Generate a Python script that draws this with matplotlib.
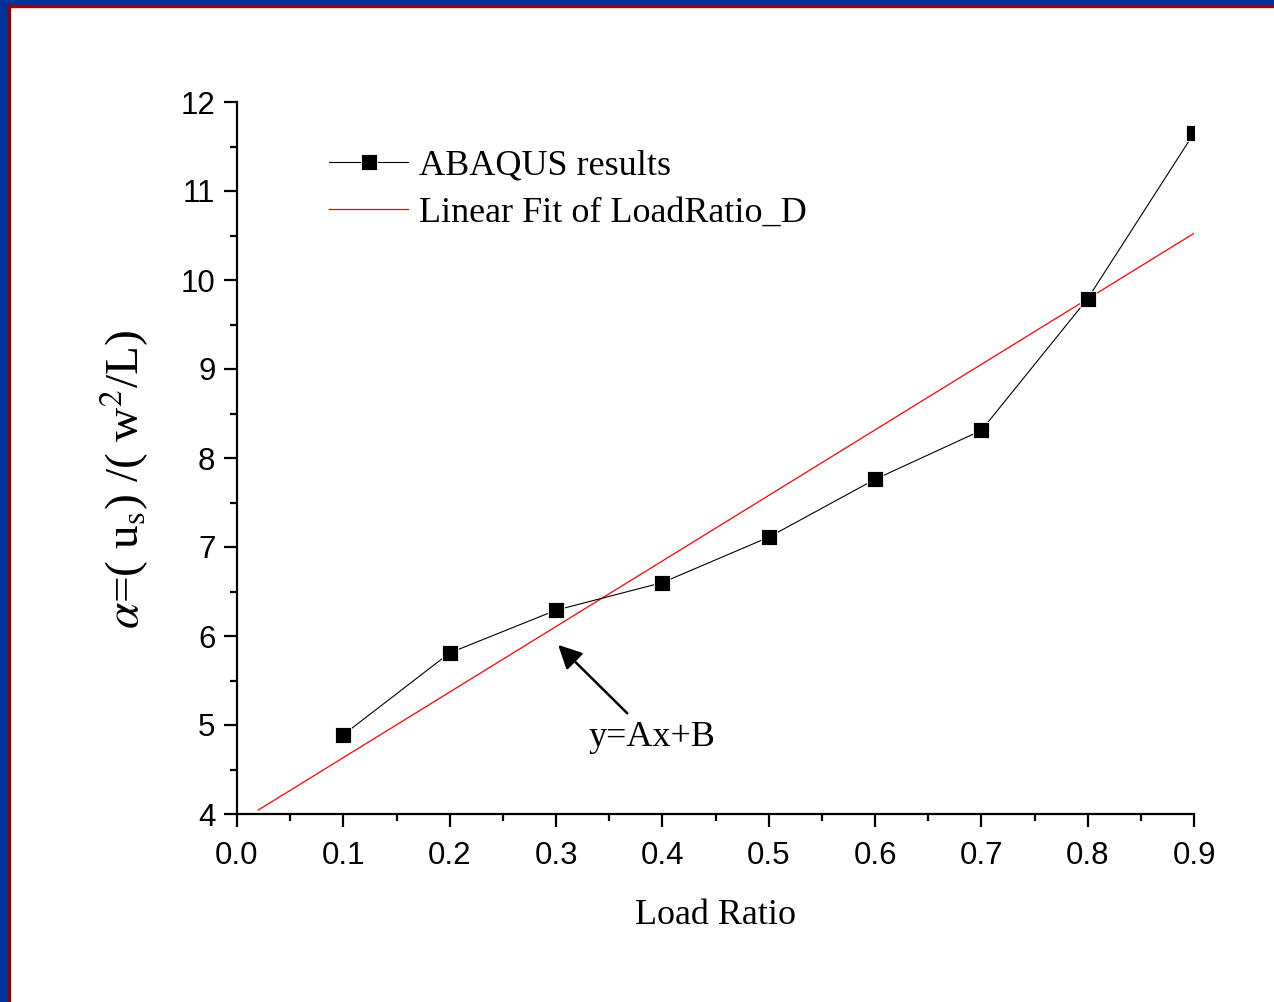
import numpy as np
import matplotlib
matplotlib.use("Agg")
import matplotlib.pyplot as plt
from matplotlib.patches import Rectangle
from matplotlib.ticker import MultipleLocator

# --- data ---
load_ratio = [0.1, 0.2, 0.3, 0.4, 0.5, 0.6, 0.7, 0.8, 0.9]
alpha = [4.89, 5.81, 6.29, 6.60, 7.11, 7.76, 8.31, 9.79, 11.65]
fit_range = [0.02, 0.9]

x_ticks = [0.0, 0.1, 0.2, 0.3, 0.4, 0.5, 0.6, 0.7, 0.8, 0.9]
y_ticks = [4, 5, 6, 7, 8, 9, 10, 11, 12]

plt.rcParams["mathtext.fontset"] = "stix"

fig = plt.figure(figsize=(12.74, 10.02), dpi=100)
W, H = 1274, 1002

# slide-style frame: blue band with thin dark red inner line (top and left)
fig.patches.append(Rectangle((0, 1 - 5 / H), 1, 5 / H, transform=fig.transFigure,
                             color="#003399", zorder=0))
fig.patches.append(Rectangle((0, 1 - 7 / H), 1, 2 / H, transform=fig.transFigure,
                             color="#a00000", zorder=0))
fig.patches.append(Rectangle((0, 0), 8 / W, 1, transform=fig.transFigure,
                             color="#003399", zorder=0))
fig.patches.append(Rectangle((8 / W, 0), 2 / W, 1 - 5 / H, transform=fig.transFigure,
                             color="#8b0000", zorder=0))

ax = fig.add_axes([237 / W, 1 - 814 / H, (1194 - 237) / W, (814 - 102) / H])

# linear fit
A, B = np.polyfit(load_ratio, alpha, 1)
xf = np.array(fit_range)
ax.plot(xf, A * xf + B, color="red", lw=0.9, label="Linear Fit of LoadRatio_D", zorder=2)

ax.plot(load_ratio, alpha, color="black", lw=0.8, marker="s", markersize=11,
        markerfacecolor="black", markeredgecolor="white", markeredgewidth=0.6,
        label="ABAQUS results", zorder=3)

ax.set_xlim(0, 0.9)
ax.set_ylim(4, 12)
ax.set_xticks(x_ticks)
ax.set_xticklabels([f"{v:.1f}" for v in x_ticks])
ax.set_yticks(y_ticks)
ax.xaxis.set_minor_locator(MultipleLocator(0.05))
ax.yaxis.set_minor_locator(MultipleLocator(0.5))

for side in ["top", "right"]:
    ax.spines[side].set_visible(False)
for side in ["left", "bottom"]:
    ax.spines[side].set_linewidth(1.6)

ax.tick_params(which="major", direction="out", length=9.5, width=1.6,
               labelsize=22.5, pad=6)
ax.tick_params(axis="x", which="major", pad=10)
ax.tick_params(which="minor", direction="out", length=5, width=1.6)
for lbl in ax.get_xticklabels() + ax.get_yticklabels():
    lbl.set_fontfamily("Liberation Sans")

ax.set_xlabel("Load Ratio", fontfamily="Liberation Serif", fontsize=26, labelpad=20)
ax.set_ylabel(r"$\alpha$=( u$_{\rm s}$) /( w$^{2}$/L)", fontfamily="Liberation Serif",
              fontsize=34)
ax.yaxis.set_label_coords(-0.09, 0.47)

# legend ordered as in the reference
handles, labels = ax.get_legend_handles_labels()
leg = ax.legend(handles[::-1], labels[::-1], loc="upper left",
                bbox_to_anchor=(0.062, 0.979), frameon=False,
                prop={"family": "Liberation Serif", "size": 26},
                handlelength=2.2, handletextpad=0.3, labelspacing=0.38)

ax.annotate("y=Ax+B", xy=(0.302, 5.90), xytext=(0.39, 4.86),
            fontsize=26, fontfamily="Liberation Serif", ha="center", va="center",
            arrowprops=dict(arrowstyle="-|>", color="black", lw=1.8,
                            mutation_scale=36, shrinkA=5, shrinkB=0))

fig.savefig("out.png", dpi=100)
